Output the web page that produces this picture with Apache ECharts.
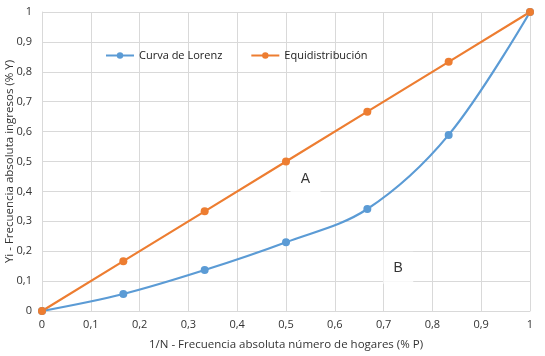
<!DOCTYPE html>
<html><head><meta charset="utf-8">
<script src="https://cdn.jsdelivr.net/npm/echarts@6/dist/echarts.min.js"></script>
<style>html,body{margin:0;padding:0;background:#fff}#c{width:545px;height:356px}</style>
</head><body><div id="c"></div>
<script>
const xValues = [0, 1/6, 2/6, 3/6, 4/6, 5/6, 1];
const lorenz = [0, 0.057, 0.137, 0.23, 0.341, 0.589, 1];
const equi = [0, 1/6, 2/6, 3/6, 4/6, 5/6, 1];
const labelsAB = [{name: 'A', x: 0.54, y: 0.44}, {name: 'B', x: 0.73, y: 0.145}];
const FONT = 'Open Sans';
const chart = echarts.init(document.getElementById('c'));
const fmt = v => String(Math.round(v*10)/10).replace('.', ',');
chart.setOption({
  animation: false,
  textStyle: {fontFamily: FONT},
  grid: {left: 42, right: 15, top: 12, bottom: 45, containLabel: false, outerBoundsMode: 'none'},
  legend: {
    left: 100, top: 45, itemGap: 28, itemWidth: 28, itemHeight: 8,
    textStyle: {fontSize: 11, color: '#222', fontFamily: FONT},
    data: ['Curva de Lorenz', 'Equidistribución']
  },
  xAxis: {
    type: 'value', min: 0, max: 1, interval: 0.1,
    name: '1/N - Frecuencia absoluta número de hogares (% P)',
    nameLocation: 'middle', nameGap: 28, nameMoveOverlap: false,
    nameTextStyle: {fontSize: 11.5, color: '#333'},
    axisLine: {show: true, lineStyle: {color: '#d9d9d9'}},
    axisTick: {show: false},
    axisLabel: {formatter: fmt, fontSize: 11, color: '#333', margin: 8},
    splitLine: {show: true, lineStyle: {color: '#d9d9d9'}}
  },
  yAxis: {
    type: 'value', min: 0, max: 1, interval: 0.1,
    name: 'Yi - Frecuencia absoluta ingresos (% Y)',
    nameLocation: 'middle', nameGap: 26, nameMoveOverlap: false,
    nameTextStyle: {fontSize: 11.5, color: '#333'},
    axisLine: {show: true, lineStyle: {color: '#d9d9d9'}},
    axisTick: {show: false},
    axisLabel: {formatter: fmt, fontSize: 11, color: '#333', margin: 10},
    splitLine: {show: true, lineStyle: {color: '#d9d9d9'}}
  },
  series: [
    {
      name: 'Curva de Lorenz', type: 'line', smooth: 0.35,
      data: xValues.map((x, i) => [x, lorenz[i]]),
      symbol: 'circle', symbolSize: 8,
      lineStyle: {color: '#5b9bd5', width: 2.2},
      itemStyle: {color: '#5b9bd5'},
      z: 3
    },
    {
      name: 'Equidistribución', type: 'line',
      data: xValues.map((x, i) => [x, equi[i]]),
      symbol: 'circle', symbolSize: 8,
      lineStyle: {color: '#ed7d31', width: 2.2},
      itemStyle: {color: '#ed7d31'},
      z: 3
    },
    {
      name: 'labels', type: 'scatter',
      data: labelsAB.map(l => ({value: [l.x, l.y], name: l.name})),
      symbol: 'rect', symbolSize: [30, 32],
      itemStyle: {color: '#ffffff'},
      label: {show: true, position: 'inside', formatter: p => p.name, fontSize: 14, color: '#000', fontFamily: 'Liberation Sans'},
      z: 2, silent: true, legendHoverLink: false
    }
  ]
});
</script></body></html>
